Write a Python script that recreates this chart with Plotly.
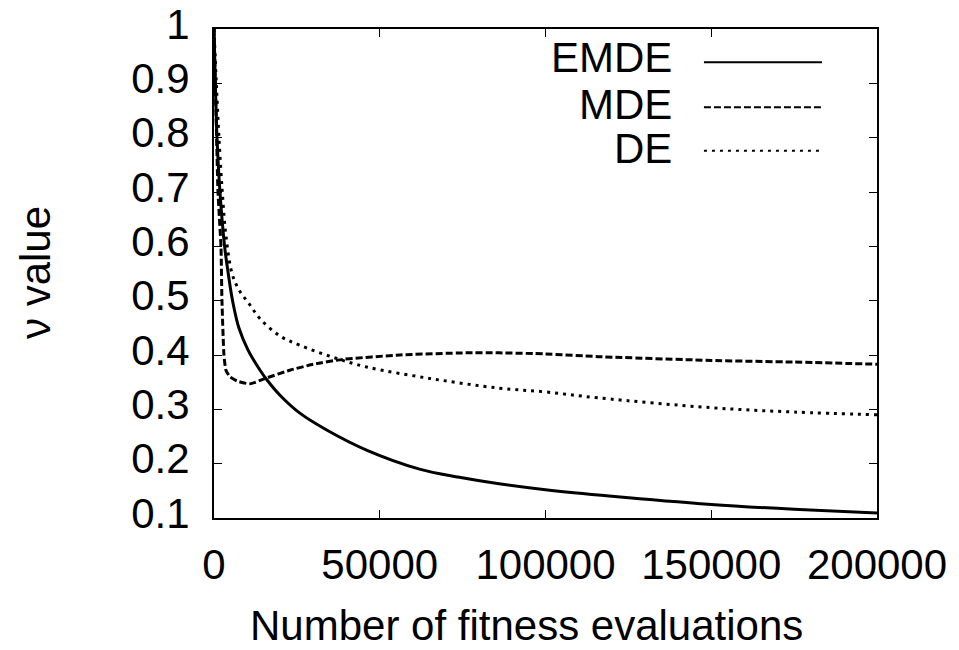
import plotly.graph_objects as go

# ---- data ----
emde_x = [0, 400, 900, 1800, 3200, 4300, 5600, 7500, 10200, 13900, 16000, 19900, 25900, 34000,
          46000, 62000, 74000, 86000, 100000, 120000, 150000, 175000, 200000]
emde_y = [1.0, 0.9, 0.8, 0.7, 0.6, 0.55, 0.5, 0.45, 0.41, 0.372, 0.354, 0.326, 0.293, 0.262,
          0.225, 0.19, 0.175, 0.163, 0.152, 0.14, 0.125, 0.116, 0.109]

mde_x = [0, 600, 1200, 2100, 2400, 3000, 3600, 4800, 7000, 10800, 16000, 22900, 30000, 38900,
         56000, 76000, 86000, 100000, 116000, 150000, 175000, 200000]
mde_y = [1.0, 0.85, 0.7, 0.6, 0.5, 0.4, 0.372, 0.36, 0.352, 0.347, 0.358, 0.372, 0.383, 0.392,
         0.4, 0.404, 0.404, 0.402, 0.397, 0.39, 0.387, 0.383]

de_x = [0, 700, 1500, 2500, 3600, 5400, 7500, 10500, 14000, 19900, 25900, 35800,
        46000, 66000, 86000, 100000, 116000, 150000, 175000, 200000]
de_y = [1.0, 0.9, 0.8, 0.7, 0.62, 0.551, 0.52, 0.495, 0.466, 0.435, 0.418, 0.396,
        0.378, 0.356, 0.339, 0.332, 0.321, 0.303, 0.295, 0.29]

series_names = ["EMDE", "MDE", "DE"]
x_tickvals = [0, 50000, 100000, 150000, 200000]
x_ticktext = ["0", "50000", "100000", "150000", "200000"]
y_tickvals = [0.1, 0.2, 0.3, 0.4, 0.5, 0.6, 0.7, 0.8, 0.9, 1.0]
y_ticktext = ["0.1", "0.2", "0.3", "0.4", "0.5", "0.6", "0.7", "0.8", "0.9", "1"]
x_title = "Number of fitness evaluations"
y_title = "ν value"

FONT = "Liberation Sans, Arial, sans-serif"
FS = 42
dashes = ["solid", "7px,3px", "3px,5px"]
smooth = [1.0, 0.5, 1.0]

fig = go.Figure()
for name, xs, ys, d, sm in zip(series_names, [emde_x, mde_x, de_x], [emde_y, mde_y, de_y], dashes, smooth):
    fig.add_trace(go.Scatter(x=xs, y=ys, mode="lines", name=name,
                             line=dict(color="black", width=3, dash=d, shape="spline", smoothing=sm),
                             showlegend=False))

# gnuplot-style key: text right-aligned, sample line to the right
key_text_y = [0.941, 0.846, 0.756]
key_line_y = [0.932, 0.840, 0.751]
for name, ty, ly, d in zip(series_names, key_text_y, key_line_y, dashes):
    fig.add_annotation(x=0.693, y=ty, xref="paper", yref="paper", text=name, showarrow=False,
                       xanchor="right", yanchor="middle", borderpad=0,
                       font=dict(family=FONT, size=FS, color="black"))
    fig.add_shape(type="line", xref="paper", yref="paper", x0=0.739, x1=0.917, y0=ly, y1=ly,
                  line=dict(color="black", width=2, dash=d))

# axis titles placed as in the reference
fig.add_annotation(x=0.472, y=-0.219, xref="paper", yref="paper", text=x_title, showarrow=False,
                   xanchor="center", yanchor="middle", borderpad=0,
                   font=dict(family=FONT, size=FS, color="black"))
fig.add_annotation(x=-0.270, y=0.503, xref="paper", yref="paper", text=y_title, showarrow=False,
                   textangle=-90, xanchor="center", yanchor="middle",
                   font=dict(family=FONT, size=FS, color="black"))

axis_common = dict(showline=True, linecolor="black", linewidth=2, mirror="ticks",
                   ticks="inside", ticklen=8, tickwidth=1, tickcolor="black",
                   showgrid=False, zeroline=False, automargin=False,
                   tickfont=dict(family=FONT, size=FS, color="black"))

fig.update_xaxes(range=[0, 200000], tickvals=x_tickvals, ticktext=x_ticktext,
                 ticklabelstandoff=9, **axis_common)
fig.update_yaxes(range=[0.1, 1.0], tickvals=y_tickvals, ticktext=y_ticktext,
                 ticklabelstandoff=14, ticklabelshift=-5, **axis_common)

fig.update_layout(width=959, height=650, margin=dict(l=214, r=82, t=29, b=132),
                  paper_bgcolor="white", plot_bgcolor="white")

fig.write_html("out.html")
